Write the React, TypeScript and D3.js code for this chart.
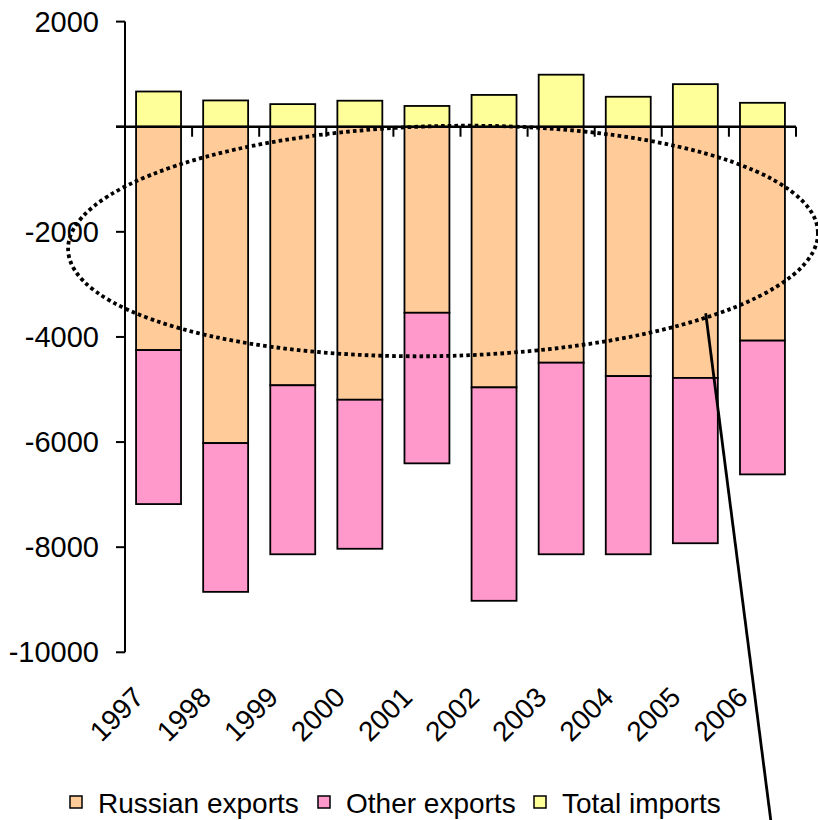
import React from "react";
import * as d3 from "d3";

const years = ["1997", "1998", "1999", "2000", "2001", "2002", "2003", "2004", "2005", "2006"];
const russianExports = [-4250, -6020, -4920, -5195, -3540, -4960, -4490, -4745, -4780, -4070];
const otherExports = [-2930, -2830, -3215, -2835, -2865, -4060, -3645, -3390, -3145, -2545];
const totalImports = [670, 500, 430, 495, 395, 605, 990, 570, 810, 455];
const yTicks = [2000, 0, -2000, -4000, -6000, -8000, -10000];
const yTickLabels = ["2000", "", "-2000", "-4000", "-6000", "-8000", "-10000"];
const seriesNames = ["Russian exports", "Other exports", "Total imports"];
const seriesKeys = ["russian", "other", "imports"];
const colors = ["#FFCC99", "#FF99CC", "#FFFF99"];

const W = 818;
const H = 820;
const FONT = "'Liberation Sans', Arial, sans-serif";

export default function App() {
  const x = d3
    .scaleBand<string>()
    .domain(years)
    .range([125, 796])
    .paddingInner(0.33)
    .paddingOuter(0.165);
  const y = d3.scaleLinear().domain([-10000, 2000]).range([652.3, 21.6]);

  const rows = years.map((yr, i) => ({
    year: yr,
    russian: russianExports[i],
    other: otherExports[i],
    imports: totalImports[i],
  }));
  const stack = d3.stack<any>().keys(seriesKeys).offset(d3.stackOffsetDiverging);
  const layers = stack(rows);

  const step = x.step();
  const x0 = 125;
  const y0 = y(0);

  const legendItems = [
    { sx: 70, tx: 98 },
    { sx: 318, tx: 346 },
    { sx: 534, tx: 562 },
  ];

  return (
    <svg
      width={W}
      height={H}
      style={{ position: "absolute", left: 0, top: 0, display: "block", background: "#fff" }}
      fontFamily={FONT}
    >
      {/* bars */}
      {layers.map((layer, li) => (
        <g key={layer.key} fill={colors[li]} stroke="#000" strokeWidth={1.8}>
          {layer.map((d: any, i: number) => {
            const top = y(Math.max(d[0], d[1]));
            const bot = y(Math.min(d[0], d[1]));
            return (
              <rect
                key={i}
                x={x(years[i])}
                y={top}
                width={x.bandwidth()}
                height={Math.max(0, bot - top)}
              />
            );
          })}
        </g>
      ))}

      {/* y axis */}
      <line x1={x0} x2={x0} y1={y(2000)} y2={y(-10000)} stroke="#000" strokeWidth={2} />
      {yTicks.map((t, i) => (
        <g key={t}>
          <line x1={x0 - 9} x2={x0} y1={y(t)} y2={y(t)} stroke="#000" strokeWidth={2} />
          <text
            x={99}
            y={y(t)}
            textAnchor="end"
            dominantBaseline="central"
            fontSize={29}
            fill="#000"
          >
            {yTickLabels[i]}
          </text>
        </g>
      ))}

      {/* zero category axis */}
      <line x1={x0 - 9} x2={796} y1={y0} y2={y0} stroke="#000" strokeWidth={2.4} />
      {d3.range(years.length + 1).map((i) => (
        <line
          key={i}
          x1={x0 + i * step}
          x2={x0 + i * step}
          y1={y0}
          y2={y0 + 10}
          stroke="#000"
          strokeWidth={2}
        />
      ))}

      {/* x labels */}
      {years.map((yr) => {
        const cx = (x(yr) as number) + x.bandwidth() / 2;
        const px = cx - 13;
        const py = 699;
        return (
          <text
            key={yr}
            x={px}
            y={py}
            textAnchor="end"
            fontSize={28}
            transform={`rotate(-45 ${px} ${py})`}
            fill="#000"
          >
            {yr}
          </text>
        );
      })}

      {/* dotted ellipse annotation */}
      <ellipse
        cx={443}
        cy={241}
        rx={375}
        ry={115}
        transform="rotate(-1.3 443 241)"
        fill="none"
        stroke="#000"
        strokeWidth={3.8}
        strokeDasharray="3.6 3.2"
      />

      {/* pointer line */}
      <line x1={705.7} y1={313.3} x2={771} y2={822} stroke="#000" strokeWidth={2.8} />

      {/* legend */}
      {seriesNames.map((name, i) => (
        <g key={name}>
          <rect
            x={legendItems[i].sx}
            y={796}
            width={12}
            height={12}
            fill={colors[i]}
            stroke="#000"
            strokeWidth={1.5}
          />
          <text x={legendItems[i].tx} y={803} dominantBaseline="central" fontSize={28} fill="#000">
            {name}
          </text>
        </g>
      ))}
    </svg>
  );
}
